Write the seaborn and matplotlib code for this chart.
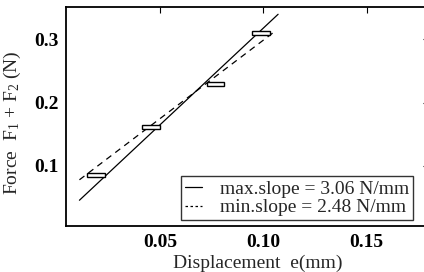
import matplotlib
matplotlib.use("Agg")
import matplotlib.pyplot as plt
from matplotlib.patches import Rectangle
from matplotlib.lines import Line2D
import seaborn as sns
import pandas as pd

# measured points (centre) with their uncertainty half-widths
disp = [0.0192, 0.0456, 0.0768, 0.0988]
force = [0.0863, 0.1610, 0.2290, 0.3105]
disp_err = [0.0043, 0.0044, 0.0043, 0.0045]
force_err = [0.0032, 0.0032, 0.0032, 0.0032]

# fitted lines (end points)
max_x = [0.011, 0.1071]
max_y = [0.0457, 0.3395]
min_x = [0.011, 0.1056]
min_y = [0.0780, 0.3126]
labels = ["max.slope = 3.06 N/mm", "min.slope = 2.48 N/mm"]

xticks = [0.05, 0.10, 0.15]
xticklabels = ["0.05", "0.10", "0.15"]
yticks = [0.1, 0.2, 0.3]
yticklabels = ["0.1", "0.2", "0.3"]

sns.set_theme(style="white")
plt.rcParams["font.family"] = ["Liberation Serif", "DejaVu Serif"]
plt.rcParams["mathtext.fontset"] = "custom"
plt.rcParams["mathtext.rm"] = "Liberation Serif"
plt.rcParams["mathtext.it"] = "Liberation Serif"

FS = 14

fig = plt.figure(figsize=(4.24, 2.72), dpi=100)
ax = fig.add_axes([66 / 424, 46 / 272, (428.8 - 66) / 424, 219 / 272])

df = pd.concat([
    pd.DataFrame({"x": max_x, "y": max_y, "fit": labels[0]}),
    pd.DataFrame({"x": min_x, "y": min_y, "fit": labels[1]}),
])
sns.lineplot(data=df, x="x", y="y", hue="fit", style="fit",
             palette=["black", "black"], dashes=[(None, None), (5, 4)],
             linewidth=0.9, ax=ax, legend=False)

for cx, cy, ex, ey in zip(disp, force, disp_err, force_err):
    ax.add_patch(Rectangle((cx - ex, cy - ey), 2 * ex, 2 * ey,
                           facecolor="white", edgecolor="black", linewidth=1.0, zorder=3))

ax.set_xlim(0.0045, 0.18)
ax.set_ylim(0.005, 0.351)
ax.set_xticks(xticks)
ax.set_xticklabels(xticklabels, fontweight="bold", fontsize=FS)
ax.set_yticks(yticks)
ax.set_yticklabels(yticklabels, fontweight="bold", fontsize=FS)
ax.tick_params(direction="in", length=4, width=0.8, top=True, right=True,
               pad=5.5, colors="black")
for s in ax.spines.values():
    s.set_color("black")
    s.set_linewidth(1.3)

ax.set_xlabel("Displacement  e(mm)", fontsize=FS)
ax.set_ylabel(r"Force  F$_1$ + F$_2$ (N)", fontsize=FS)
ax.xaxis.set_label_coords((258 - 66) / 362.8, -0.13)
ax.yaxis.set_label_coords((23 - 66) / 362.8, 0.47)

handles = [Line2D([], [], color="black", lw=0.9),
           Line2D([], [], color="black", lw=0.9, linestyle=(0, (2, 2)))]
leg = ax.legend(handles, labels, loc="lower right", bbox_to_anchor=(0.9557, 0.026),
                fontsize=FS, frameon=True, fancybox=False, handlelength=0.9,
                handletextpad=0.9, borderpad=0.2, borderaxespad=0, labelspacing=0.05)
leg.get_frame().set_edgecolor("black")
leg.get_frame().set_linewidth(1.0)

fig.savefig("out.png", dpi=100)
